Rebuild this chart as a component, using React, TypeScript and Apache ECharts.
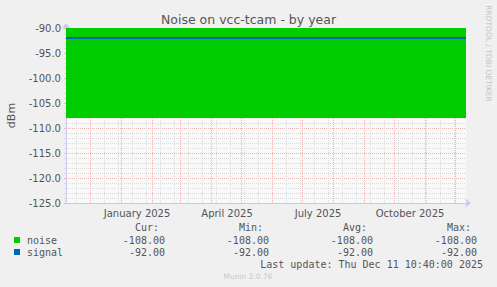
import React, { useEffect, useRef } from "react";
import * as echarts from "echarts";

// ---- data ----
const titleText = "Noise on vcc-tcam - by year";
const yAxisName = "dBm";
const periodStart = "2024-11-06T10:40:00Z";
const periodEnd = "2025-12-11T10:40:00Z";
const sampleTimes = [periodStart, periodEnd];
const noiseValues = [-108, -108];
const signalValues = [-92, -92];
const seriesNames = ["noise", "signal"];
const seriesColors = ["#00cc00", "#0066b3"];
const yMin = -125;
const yMax = -90;
const yStep = 5;
const monthLabels = ["January 2025", "April 2025", "July 2025", "October 2025"];
const monthLabelDates = ["2025-01-01", "2025-04-01", "2025-07-01", "2025-10-01"];
const monthGridDates = [
  "2024-12-01", "2025-01-01", "2025-02-01", "2025-03-01", "2025-04-01", "2025-05-01",
  "2025-06-01", "2025-07-01", "2025-08-01", "2025-09-01", "2025-10-01", "2025-11-01", "2025-12-01",
];
const firstMinorGridDate = "2024-11-17";
const minorGridStepDays = 14;
const statHeaders = ["Cur:", "Min:", "Avg:", "Max:"];
const lastUpdate = "Last update: Thu Dec 11 10:40:00 2025";
const footer = "Munin 2.0.76";
const sideText = "RRDTOOL / TOBI OETIKER";

const DAY = 86400000;
const ORIGIN = Date.UTC(2025, 0, 1);
const toDays = (s: string) => (Date.parse(s.length === 10 ? s + "T00:00:00Z" : s) - ORIGIN) / DAY;

export default function App() {
  const ref = useRef<HTMLDivElement>(null);
  useEffect(() => {
    if (!ref.current) return;
    const chart = echarts.init(ref.current, null, { renderer: "svg" });
    const xMin = toDays(periodStart);
    const xMax = toDays(periodEnd);
    const labelPos = monthLabelDates.map((d) => toDays(d) + 15.5);
    const minorDays: number[] = [];
    for (let d = toDays(firstMinorGridDate); d < xMax; d += minorGridStepDays) minorDays.push(d);
    const majorDays = monthGridDates.map(toDays);

    const stats = (vals: number[]) => {
      const cur = vals[vals.length - 1];
      const mn = Math.min(...vals);
      const mx = Math.max(...vals);
      const avg = vals.reduce((a, b) => a + b, 0) / vals.length;
      return [cur, mn, avg, mx].map((v) => v.toFixed(2));
    };
    const allStats = [stats(noiseValues), stats(signalValues)];
    const colRight = [165, 269, 373, 477];
    const rowY = [240, 252];
    const mono = "'DejaVu Sans Mono', monospace";
    const sans = "'DejaVu Sans', sans-serif";
    const graphics: any[] = [];
    statHeaders.forEach((h, i) => {
      graphics.push({
        type: "text", x: colRight[i] - 6, y: 227,
        style: { text: h, font: `10px ${mono}`, fill: "#555", align: "right", verticalAlign: "middle" },
      });
    });
    allStats.forEach((row, r) => {
      row.forEach((v, i) => {
        graphics.push({
          type: "text", x: colRight[i], y: rowY[r],
          style: { text: v, font: `10px ${mono}`, fill: "#555", align: "right", verticalAlign: "middle" },
        });
      });
    });
    graphics.push({
      type: "text", x: 483, y: 264,
      style: { text: lastUpdate, font: `10px ${mono}`, fill: "#555", align: "right", verticalAlign: "middle" },
    });
    graphics.push({
      type: "text", x: 248, y: 276,
      style: { text: footer, font: `7.5px ${sans}`, fill: "#c8c8c8", align: "center", verticalAlign: "middle" },
    });
    graphics.push({
      type: "text", x: 488.5, y: 53.5, rotation: -Math.PI / 2,
      style: { text: sideText, font: `7.5px ${sans}`, fill: "#c4c4c4", align: "center", verticalAlign: "middle" },
    });

    const axisArrowLine = {
      show: true, onZero: false, lineStyle: { color: "#c8c8f0" },
      symbol: ["none", "arrow"], symbolSize: [7, 6], symbolOffset: [0, 5],
    };
    const majorColor = "#e8b4b4";
    const minorColor = "#dcdcdc";

    chart.setOption({
      animation: false,
      backgroundColor: "#f0f0f0",
      title: {
        text: titleText, left: "center", top: 8,
        textStyle: { fontFamily: sans, fontSize: 12.5, fontWeight: "normal", color: "#555" },
      },
      legend: {
        orient: "vertical", left: 14, top: 234, padding: 0, itemGap: 0,
        itemWidth: 6, itemHeight: 6, icon: "rect",
        data: seriesNames.map((n, i) => ({ name: n, itemStyle: { color: seriesColors[i] } })),
        textStyle: { fontFamily: mono, fontSize: 10, color: "#555", lineHeight: 12, padding: [0, 0, 0, 2] },
        selectedMode: false,
      },
      grid: {
        left: 66, right: 31, top: 28, bottom: 84, show: true, backgroundColor: "#f9f9f9", borderWidth: 0,
        containLabel: false, outerBoundsMode: "none",
      },
      xAxis: [
        {
          type: "value", min: xMin, max: xMax,
          axisLine: { show: false, onZero: false },
          axisTick: { show: false, customValues: minorDays },
          splitLine: { show: true, lineStyle: { color: minorColor, width: 1, type: [1, 1] } },
          axisLabel: { show: false },
        },
        {
          type: "value", min: xMin, max: xMax, position: "bottom",
          axisLine: { show: false, onZero: false },
          axisTick: { show: false, customValues: majorDays },
          splitLine: { show: true, lineStyle: { color: majorColor, width: 1, type: [1, 1] } },
          axisLabel: { show: false },
        },
        {
          type: "value", min: xMin, max: xMax, position: "bottom",
          axisLine: axisArrowLine,
          axisTick: { show: false },
          splitLine: { show: false },
          axisLabel: {
            customValues: labelPos,
            formatter: (v: number) => {
              const i = labelPos.findIndex((p) => Math.abs(p - v) < 0.01);
              return i >= 0 ? monthLabels[i] : "";
            },
            fontFamily: sans, fontSize: 10, color: "#555", margin: 5,
          },
        },
      ],
      yAxis: {
        type: "value", min: yMin, max: yMax, interval: yStep,
        name: yAxisName, nameLocation: "middle", nameGap: 49,
        nameTextStyle: { fontFamily: sans, fontSize: 11, color: "#555" },
        axisLine: axisArrowLine,
        axisTick: { show: true, length: 2, lineStyle: { color: majorColor } },
        minorTick: { show: true, splitNumber: 5, length: 2, lineStyle: { color: minorColor } },
        splitLine: { show: true, lineStyle: { color: majorColor, width: 1, type: [1, 1] } },
        minorSplitLine: { show: true, lineStyle: { color: minorColor, width: 1, type: [1, 1] } },
        axisLabel: {
          formatter: (v: number) => v.toFixed(1),
          fontFamily: sans, fontSize: 10, color: "#555", margin: 5,
        },
      },
      graphic: graphics,
      series: [
        {
          type: "line", name: seriesNames[0], z: 2, symbol: "none", xAxisIndex: 2,
          data: sampleTimes.map((t, i) => [toDays(t), noiseValues[i]]),
          lineStyle: { width: 0, color: seriesColors[0] },
          itemStyle: { color: seriesColors[0] },
          areaStyle: { origin: "end", color: seriesColors[0], opacity: 1 },
        },
        {
          type: "line", name: seriesNames[1], z: 3, symbol: "none", xAxisIndex: 2,
          data: sampleTimes.map((t, i) => [toDays(t), signalValues[i]]),
          lineStyle: { width: 2, color: seriesColors[1] },
          itemStyle: { color: seriesColors[1] },
        },
      ],
    });
    return () => chart.dispose();
  }, []);
  return <div ref={ref} style={{ width: 497, height: 287, position: "fixed", left: 0, top: 0 }} />;
}
